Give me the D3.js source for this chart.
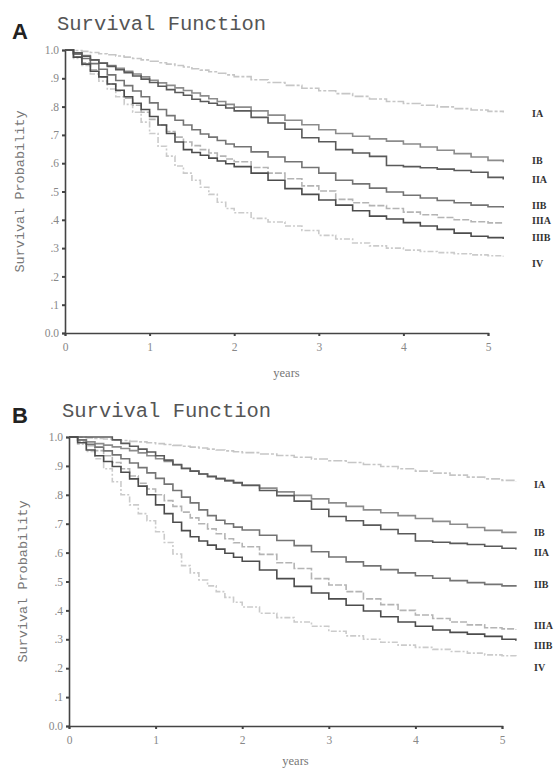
<!DOCTYPE html>
<html>
<head>
<meta charset="utf-8">
<script src="https://cdn.jsdelivr.net/npm/d3@7"></script>
<style>
  body { margin: 0; background: #fff; }
  svg { display: block; }
</style>
</head>
<body>
<svg id="chart" width="558" height="768"></svg>
<script>
// stage names, drawing order is light lines first
var stages = ['IA', 'IB', 'IIA', 'IIB', 'IIIA', 'IIIB', 'IV']
var yTicks = [0, 0.1, 0.2, 0.3, 0.4, 0.5, 0.6, 0.7, 0.8, 0.9, 1.0]
var yTickLabels = ['0.0', '.1', '.2', '.3', '.4', '.5', '.6', '.7', '.8', '.9', '1.0']
var xTicks = [0, 1, 2, 3, 4, 5]

var yearsA = [0, .1, .2, .3, .4, .5, .6, .7, .8, .9, 1, 1.1, 1.2, 1.3, 1.4, 1.5, 1.6, 1.7, 1.8, 1.9, 2,
  2.2, 2.4, 2.6, 2.8, 3, 3.2, 3.4, 3.6, 3.8, 4, 4.2, 4.4, 4.6, 4.8, 5, 5.18]
var yearsB = [0, .1, .2, .3, .4, .5, .6, .7, .8, .9, 1, 1.1, 1.2, 1.3, 1.4, 1.5, 1.6, 1.7, 1.8, 1.9, 2,
  2.2, 2.4, 2.6, 2.8, 3, 3.2, 3.4, 3.6, 3.8, 4, 4.2, 4.4, 4.6, 4.8, 5, 5.16]

// panel A survival
var survA_IA = [1, .998, .995, .991, .987, .983, .979, .975, .970, .965, .960, .955, .950, .945, .940, .934, .929, .923, .918, .912, .906,
  .895, .885, .875, .865, .856, .846, .836, .827, .818, .811, .805, .799, .793, .788, .783, .779]
var survA_IB = [1, .99, .98, .965, .955, .945, .935, .925, .915, .905, .893, .884, .875, .866, .857, .848, .838, .828, .818, .808, .798,
  .785, .770, .752, .736, .718, .705, .695, .686, .678, .668, .657, .646, .634, .622, .610, .603]
var survA_IIA = [1, .99, .978, .965, .953, .942, .93, .92, .908, .897, .885, .872, .86, .85, .84, .826, .818, .812, .805, .795, .785,
  .762, .742, .72, .69, .676, .648, .636, .624, .592, .588, .584, .579, .574, .568, .55, .542]
var survA_IIB = [1, .985, .97, .952, .932, .912, .892, .874, .855, .835, .813, .79, .768, .752, .735, .718, .703, .692, .68, .668, .658,
  .64, .622, .605, .585, .565, .54, .527, .512, .498, .487, .477, .468, .46, .452, .446, .443]
var survA_IIIA = [1, .975, .955, .93, .905, .88, .855, .83, .805, .78, .755, .735, .712, .692, .675, .662, .648, .636, .625, .615, .605,
  .585, .565, .545, .52, .502, .472, .46, .45, .44, .427, .418, .408, .40, .393, .389, .386]
var survA_IIIB = [1, .975, .95, .925, .905, .88, .858, .835, .812, .79, .765, .735, .705, .675, .648, .638, .628, .618, .608, .598, .588,
  .565, .54, .51, .49, .47, .452, .432, .413, .403, .39, .378, .366, .353, .342, .337, .332]
var survA_IV = [1, .97, .945, .915, .89, .862, .835, .808, .78, .745, .705, .66, .625, .59, .565, .54, .515, .49, .462, .44, .425,
  .405, .392, .378, .362, .345, .332, .318, .308, .3, .293, .288, .284, .28, .276, .273, .27]

// panel B survival
var survB_IA = [1, .999, .997, .995, .993, .99, .988, .985, .983, .98, .977, .974, .971, .968, .965, .962, .958, .955, .952, .949, .946,
  .941, .936, .93, .924, .918, .912, .905, .898, .89, .882, .875, .868, .861, .855, .85, .846]
var survB_IB = [1, .99, .983, .977, .972, .966, .96, .953, .945, .935, .925, .915, .903, .89, .882, .872, .864, .856, .849, .841, .834,
  .823, .81, .798, .786, .772, .76, .748, .738, .728, .718, .708, .698, .687, .677, .67, .667]
var survB_IIA = [1, 1, 1, 1, 1, .99, .978, .968, .958, .948, .935, .92, .905, .892, .882, .872, .863, .856, .849, .842, .832,
  .815, .797, .778, .75, .725, .71, .695, .68, .665, .64, .636, .632, .628, .622, .615, .611]
var survB_IIB = [1, .99, .975, .965, .952, .938, .925, .91, .894, .876, .857, .837, .815, .792, .772, .748, .728, .712, .7, .688, .678,
  .66, .642, .624, .603, .585, .568, .554, .541, .53, .52, .511, .503, .496, .49, .485, .482]
var survB_IIIA = [1, .985, .97, .953, .935, .912, .89, .865, .84, .82, .8, .78, .76, .74, .72, .7, .682, .665, .648, .634, .62,
  .594, .565, .545, .51, .488, .465, .44, .42, .4, .384, .372, .36, .35, .34, .336, .333]
var survB_IIIB = [1, .98, .955, .935, .915, .898, .878, .855, .83, .8, .765, .735, .705, .676, .655, .64, .626, .612, .598, .584, .57,
  .54, .51, .483, .46, .44, .418, .398, .378, .36, .345, .332, .324, .318, .31, .3, .295]
var survB_IV = [1, .975, .95, .925, .89, .845, .8, .765, .735, .71, .672, .635, .595, .555, .53, .505, .485, .465, .445, .428, .412,
  .39, .375, .36, .345, .328, .312, .3, .29, .28, .272, .265, .258, .252, .246, .243, .24]

// survival value beside which each stage label sits
var labelValA = [.777, .611, .541, .452, .396, .339, .247]
var labelValB = [.834, .671, .602, .491, .349, .277, .204]

var lineStyle = {
  IA: {color: '#c6c6c6', dash: '9,2,3,2'},
  IB: {color: '#8c8c8c', dash: null},
  IIA: {color: '#5a5a5a', dash: null},
  IIB: {color: '#747474', dash: null},
  IIIA: {color: '#b4b4b4', dash: '7,2'},
  IIIB: {color: '#4c4c4c', dash: null},
  IV: {color: '#cbcbcb', dash: '6,2,2,2'}
}

var panels = [
  {letter: 'A', years: yearsA, surv: [survA_IA, survA_IB, survA_IIA, survA_IIB, survA_IIIA, survA_IIIB, survA_IV], labels: labelValA,
    left: 65, right: 488, top: 50, bottom: 333, titleY: 30, letterY: 39, titleX: 57, yLabelX: 19, labelX: 532, yearsY: 377},
  {letter: 'B', years: yearsB, surv: [survB_IA, survB_IB, survB_IIA, survB_IIB, survB_IIIA, survB_IIIB, survB_IV], labels: labelValB,
    left: 69, right: 502, top: 437, bottom: 726, titleY: 417, letterY: 423, titleX: 62, yLabelX: 22, labelX: 534, yearsY: 765}
]

var svg = d3.select('#chart')

panels.forEach(function (p) {
  var x = d3.scaleLinear().domain([0, 5]).range([p.left, p.right])
  var y = d3.scaleLinear().domain([0, 1]).range([p.bottom, p.top])
  var g = svg.append('g')

  g.append('text')
    .attr('x', 12).attr('y', p.letterY)
    .attr('font-family', 'Liberation Sans, Arial, sans-serif')
    .attr('font-weight', 'bold').attr('font-size', 22)
    .attr('fill', '#222')
    .text(p.letter)

  g.append('text')
    .attr('x', p.titleX).attr('y', p.titleY)
    .attr('font-family', 'Liberation Mono, monospace')
    .attr('font-size', 20.5).attr('fill', '#555')
    .text('Survival Function')

  g.append('text')
    .attr('transform', 'translate(' + p.yLabelX + ',' + (p.top + p.bottom) / 2 + ') rotate(-90)')
    .attr('text-anchor', 'middle').attr('dy', '0.35em')
    .attr('font-family', 'Liberation Mono, monospace')
    .attr('font-size', 13.5).attr('fill', '#777')
    .text('Survival Probability')

  g.append('text')
    .attr('x', (p.left + p.right) / 2 + 10).attr('y', p.yearsY)
    .attr('text-anchor', 'middle')
    .attr('font-family', 'Liberation Serif, serif')
    .attr('font-size', 12.5).attr('fill', '#777')
    .text('years')

  var yAxis = g.append('g')
    .attr('transform', 'translate(' + p.left + ',0)')
    .call(d3.axisLeft(y).tickValues(yTicks).tickSize(3).tickPadding(3)
      .tickFormat(function (d, i) { return yTickLabels[i] }))
  var xAxis = g.append('g')
    .attr('transform', 'translate(0,' + p.bottom + ')')
    .call(d3.axisBottom(x).tickValues(xTicks).tickSize(3).tickPadding(7).tickFormat(d3.format('d')))

  ;[yAxis, xAxis].forEach(function (a) {
    a.select('.domain').attr('stroke', '#444').attr('stroke-width', 1.6)
    a.selectAll('.tick line').attr('stroke', '#444').attr('stroke-width', 2)
    a.selectAll('.tick text')
      .attr('font-family', 'Liberation Serif, serif')
      .attr('font-size', 11.5).attr('fill', '#888')
  })

  var line = d3.line()
    .x(function (d) { return x(d[0]) })
    .y(function (d) { return y(d[1]) })
    .curve(d3.curveStepAfter)

  var order = ['IA', 'IV', 'IIIA', 'IB', 'IIB', 'IIA', 'IIIB']
  order.forEach(function (s) {
    var i = stages.indexOf(s)
    var pts = p.years.map(function (t, j) { return [t, p.surv[i][j]] })
    g.append('path')
      .datum(pts)
      .attr('fill', 'none')
      .attr('stroke', lineStyle[s].color)
      .attr('stroke-width', 1.6)
      .attr('stroke-dasharray', lineStyle[s].dash)
      .attr('d', line)
  })

  g.selectAll('text.stage')
    .data(stages)
    .enter()
    .append('text')
    .attr('class', 'stage')
    .attr('x', p.labelX)
    .attr('y', function (d, i) { return y(p.labels[i]) })
    .attr('dy', '0.35em')
    .attr('font-family', 'Liberation Serif, serif')
    .attr('font-weight', 'bold').attr('font-size', 10)
    .attr('fill', '#333')
    .text(function (d) { return d })
})
</script>
</body>
</html>
